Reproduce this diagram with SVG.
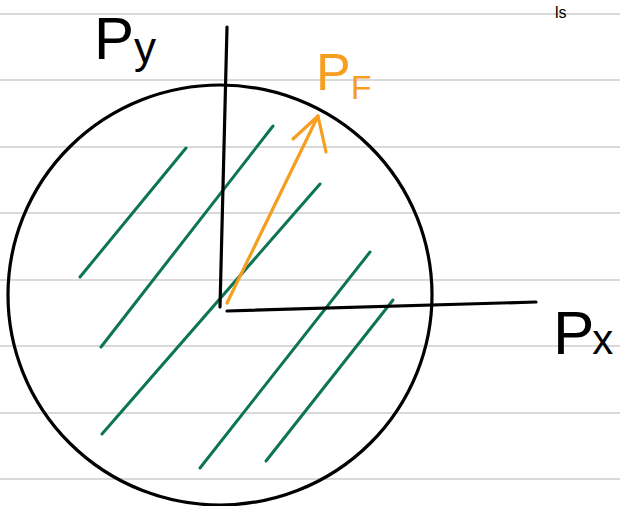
<svg xmlns="http://www.w3.org/2000/svg" width="620" height="506" viewBox="0 0 620 506">
<style>
.rule{stroke:#d9d9d9;stroke-width:2;fill:none}
.ink{stroke:#000;stroke-width:3.2;fill:none;stroke-linecap:round;stroke-linejoin:round}
.hatch{stroke:#0e7457;stroke-width:3;fill:none;stroke-linecap:round}
.vec{stroke:#f59e1f;stroke-width:3.2;fill:none;stroke-linecap:round;stroke-linejoin:round}
.lbl{font-family:"Liberation Sans","DejaVu Sans",sans-serif;font-weight:300}
</style>
<rect width="620" height="506" fill="#fff"/>
<g id="ruling">
<line class="rule" x1="0" y1="14" x2="620" y2="14"/>
<line class="rule" x1="0" y1="80" x2="620" y2="80"/>
<line class="rule" x1="0" y1="147" x2="620" y2="147"/>
<line class="rule" x1="0" y1="213" x2="620" y2="213"/>
<line class="rule" x1="0" y1="280" x2="620" y2="280"/>
<line class="rule" x1="0" y1="346" x2="620" y2="346"/>
<line class="rule" x1="0" y1="413" x2="620" y2="413"/>
<line class="rule" x1="0" y1="479" x2="620" y2="479"/>
</g>
<g id="circle">
<ellipse class="ink" cx="220" cy="295" rx="212" ry="210"/>
</g>
<g id="hatching">
<line class="hatch" x1="186" y1="148" x2="80" y2="277"/>
<line class="hatch" x1="273" y1="126" x2="101" y2="347"/>
<line class="hatch" x1="320" y1="184" x2="102" y2="434"/>
<line class="hatch" x1="370" y1="252" x2="200" y2="468"/>
<line class="hatch" x1="393" y1="300" x2="266" y2="461"/>
</g>
<g id="axes">
<line class="ink" x1="227" y1="27" x2="220" y2="307"/>
<line class="ink" x1="227" y1="311" x2="536" y2="302"/>
</g>
<g id="vector">
<line class="vec" x1="227" y1="303" x2="318" y2="116"/>
<polyline class="vec" points="293,139 318,116 326,152"/>
</g>
<g id="labels">
<text class="lbl" x="94" y="59" font-size="60" fill="#000">P<tspan font-size="44" dy="4">y</tspan></text>
<text class="lbl" x="316" y="90" font-size="52" fill="#f59e1f">P<tspan font-size="34" dy="9">F</tspan></text>
<text class="lbl" x="553" y="354" font-size="62" fill="#000">P<tspan font-size="42" dx="-2">x</tspan></text>
<text class="lbl" x="555" y="18" font-size="16" fill="#000">ls</text>
</g>
</svg>
